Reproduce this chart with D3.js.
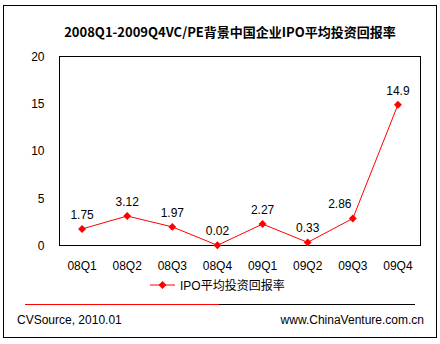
<!DOCTYPE html>
<html>
<head>
<meta charset="utf-8">
<script src="https://cdn.jsdelivr.net/npm/d3@7"></script>
<style>
  html, body { margin: 0; padding: 0; background: #fff; }
  svg { display: block; }
</style>
</head>
<body>
<svg id="chart" width="440" height="344"></svg>
<script>
// Quarterly IPO average return multiples
const quarters = ["08Q1", "08Q2", "08Q3", "08Q4", "09Q1", "09Q2", "09Q3", "09Q4"];
const returns = [1.75, 3.12, 1.97, 0.02, 2.27, 0.33, 2.86, 14.9];
const returnLabels = ["1.75", "3.12", "1.97", "0.02", "2.27", "0.33", "2.86", "14.9"];
const yTicks = [0, 5, 10, 15, 20];
const titleText = "2008Q1-2009Q4VC/PE背景中国企业IPO平均投资回报率";
const seriesName = "IPO平均投资回报率";
const sourceText = "CVSource, 2010.01";
const siteText = "www.ChinaVenture.com.cn";

const svg = d3.select("#chart");
const font = "Arial, 'Liberation Sans', 'Noto Sans CJK SC', sans-serif";
const red = "#ff0000";

// outer frame
svg.append("rect")
  .attr("x", 3.5).attr("y", 5.5).attr("width", 433).attr("height", 332)
  .attr("fill", "#fff").attr("stroke", "#000").attr("stroke-width", 1);

// title
svg.append("text")
  .attr("x", 230).attr("y", 37)
  .attr("text-anchor", "middle")
  .attr("font-family", "'Noto Sans CJK SC', sans-serif")
  .attr("font-weight", "bold")
  .attr("font-size", 13)
  .attr("fill", "#000")
  .text(titleText);

const plot = { left: 59.5, right: 420.5, top: 56.5, bottom: 245.5 };

const x = d3.scaleBand().domain(quarters).range([plot.left, plot.right]);
const y = d3.scaleLinear().domain([0, 20]).range([plot.bottom, plot.top]);

// plot frame
svg.append("rect")
  .attr("x", plot.left).attr("y", plot.top)
  .attr("width", plot.right - plot.left).attr("height", plot.bottom - plot.top)
  .attr("fill", "none").attr("stroke", "#000").attr("stroke-width", 1);

// y axis labels
const yAxis = d3.axisLeft(y).tickValues(yTicks).tickSize(0).tickPadding(15);
const yg = svg.append("g").attr("transform", `translate(${plot.left},0)`).call(yAxis);
yg.select(".domain").remove();
yg.selectAll("text").attr("font-family", font).attr("font-size", 12).attr("fill", "#000");

// x axis labels
const xAxis = d3.axisBottom(x).tickSize(0).tickPadding(16);
const xg = svg.append("g").attr("transform", `translate(0,${plot.bottom})`).call(xAxis);
xg.select(".domain").remove();
xg.selectAll("text").attr("font-family", font).attr("font-size", 12).attr("fill", "#000");

const cx = q => x(q) + x.bandwidth() / 2;

// series line
const line = d3.line().x((d, i) => cx(quarters[i])).y(d => y(d));
svg.append("path")
  .datum(returns)
  .attr("d", line)
  .attr("fill", "none").attr("stroke", red).attr("stroke-width", 1);

// diamond markers
const diamond = d3.symbol().type(d3.symbolDiamond2).size(40);
svg.selectAll(".pt").data(returns).enter().append("path")
  .attr("class", "pt")
  .attr("d", diamond)
  .attr("transform", (d, i) => `translate(${cx(quarters[i])},${y(d)})`)
  .attr("fill", red);

// value labels; a label sitting under a steep rise is nudged left off the line
const labelDx = (d, i) => {
  const next = returns[i + 1];
  return next !== undefined && next - d > 5 ? -13 : 0;
};
svg.selectAll(".vl").data(returns).enter().append("text")
  .attr("class", "vl")
  .attr("x", (d, i) => cx(quarters[i]) + labelDx(d, i))
  .attr("y", d => y(d) - 10)
  .attr("text-anchor", "middle")
  .attr("font-family", font).attr("font-size", 12).attr("fill", "#000")
  .text((d, i) => returnLabels[i]);

// legend
const lg = svg.append("g").attr("transform", "translate(150,285)");
lg.append("line").attr("x1", 0).attr("x2", 25).attr("y1", 0).attr("y2", 0)
  .attr("stroke", red).attr("stroke-width", 1);
lg.append("path").attr("d", diamond).attr("transform", "translate(12.5,0)").attr("fill", red);
lg.append("text").attr("x", 30).attr("y", 4.5)
  .attr("font-family", font).attr("font-size", 12).attr("fill", "#000")
  .text(seriesName);

// footer separator
svg.append("line").attr("x1", 25).attr("x2", 219).attr("y1", 304.5).attr("y2", 304.5)
  .attr("stroke", red).attr("stroke-width", 1);
svg.append("line").attr("x1", 219).attr("x2", 415).attr("y1", 304.5).attr("y2", 304.5)
  .attr("stroke", "#000").attr("stroke-width", 1);

// footer text
svg.append("text").attr("x", 17).attr("y", 324)
  .attr("font-family", font).attr("font-size", 12).attr("fill", "#000")
  .text(sourceText);
svg.append("text").attr("x", 424).attr("y", 324).attr("text-anchor", "end")
  .attr("font-family", font).attr("font-size", 12).attr("fill", "#000")
  .text(siteText);
</script>
</body>
</html>
